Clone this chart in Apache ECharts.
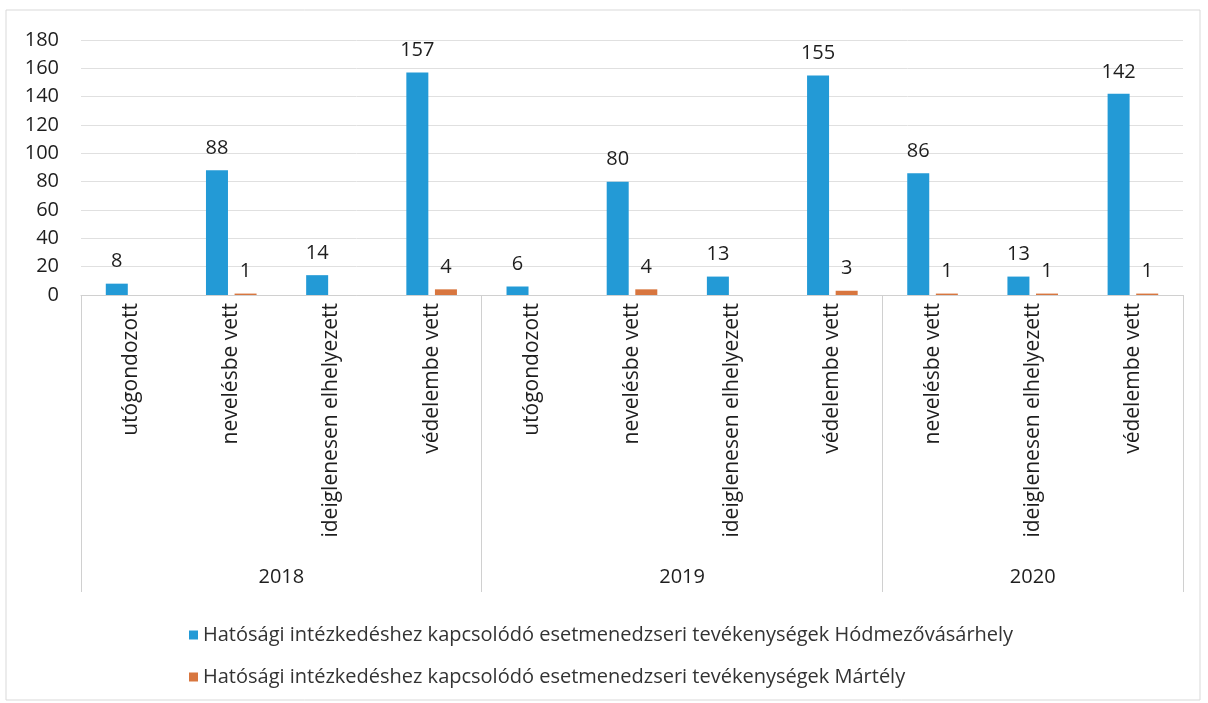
<!DOCTYPE html>
<html>
<head>
<meta charset="utf-8">
<script src="https://cdn.jsdelivr.net/npm/echarts@6/dist/echarts.min.js"></script>
<style>
  html, body { margin: 0; padding: 0; background: #fff; }
  #main { width: 1208px; height: 703px; }
</style>
</head>
<body>
<div id="main"></div>
<script>
// categories (grouped by year)
const categories = [
  'utógondozott', 'nevelésbe vett', 'ideiglenesen elhelyezett', 'védelembe vett',
  'utógondozott', 'nevelésbe vett', 'ideiglenesen elhelyezett', 'védelembe vett',
  'nevelésbe vett', 'ideiglenesen elhelyezett', 'védelembe vett'
];
const years = ['2018', '2019', '2020'];
const yearBounds = [0, 4, 8, 11];   // category index where each year group starts/ends

const hodmezo = [8, 88, 14, 157, 6, 80, 13, 155, 86, 13, 142];
const martely = [0, 1, 0, 4, 0, 4, 0, 3, 1, 1, 1];

const seriesNames = [
  'Hatósági intézkedéshez kapcsolódó esetmenedzseri tevékenységek Hódmezővásárhely',
  'Hatósági intézkedéshez kapcsolódó esetmenedzseri tevékenységek Mártély'
];

const FONT = 'Open Sans';
const TEXT = '#1e1e1e';

// centres of year groups on a 0..11 value scale
const yearCenters = years.map((y, i) => (yearBounds[i] + yearBounds[i + 1]) / 2);

const chart = echarts.init(document.getElementById('main'));

const barLabel = {
  show: true,
  position: 'top',
  distance: 12,
  fontFamily: FONT,
  fontSize: 20,
  color: TEXT,
  formatter: p => (p.value ? p.value : '')
};

chart.setOption({
  animation: false,
  textStyle: { fontFamily: FONT },
  grid: { left: 81, right: 25, top: 40, bottom: 408, containLabel: false },
  legend: {
    orient: 'vertical',
    left: 184,
    top: 620,
    itemWidth: 9,
    itemHeight: 9,
    itemGap: 22,
    icon: 'rect',
    textStyle: { fontFamily: FONT, fontSize: 20, color: '#333' },
    data: seriesNames
  },
  xAxis: [
    {
      type: 'category',
      data: categories,
      axisLine: { show: true, lineStyle: { color: '#d0d0d0', width: 1 } },
      axisTick: { show: false },
      axisLabel: {
        rotate: 90,
        interval: 0,
        margin: 8,
        fontFamily: FONT,
        fontSize: 21,
        color: TEXT
      }
    },
    {
      type: 'value',
      min: 0,
      max: 11,
      position: 'bottom',
      axisLine: { show: false },
      splitLine: { show: false },
      axisTick: {
        show: true,
        inside: false,
        length: 297,
        customValues: yearBounds,
        lineStyle: { color: '#d0d0d0', width: 1 }
      },
      axisLabel: {
        show: true,
        margin: 272,
        customValues: yearCenters,
        fontFamily: FONT,
        fontSize: 20,
        color: TEXT,
        formatter: v => {
          const i = yearCenters.indexOf(v);
          return i >= 0 ? years[i] : '';
        }
      }
    }
  ],
  yAxis: {
    type: 'value',
    min: 0,
    max: 180,
    interval: 20,
    axisLine: { show: false },
    axisTick: { show: false },
    axisLabel: { margin: 22, fontFamily: FONT, fontSize: 20, color: TEXT },
    splitLine: { lineStyle: { color: '#e0e0e0', width: 1 } }
  },
  series: [
    {
      name: seriesNames[0],
      type: 'bar',
      data: hodmezo,
      barWidth: 22,
      barGap: '30%',
      itemStyle: { color: '#239ad6' },
      label: barLabel
    },
    {
      name: seriesNames[1],
      type: 'bar',
      data: martely,
      barWidth: 22,
      itemStyle: { color: '#d8763f' },
      label: barLabel
    }
  ],
  graphic: [
    {
      type: 'rect',
      shape: { x: 6, y: 10, width: 1194, height: 690 },
      style: { fill: 'none', stroke: '#d9d9d9', lineWidth: 1 },
      silent: true
    }
  ]
});
</script>
</body>
</html>
